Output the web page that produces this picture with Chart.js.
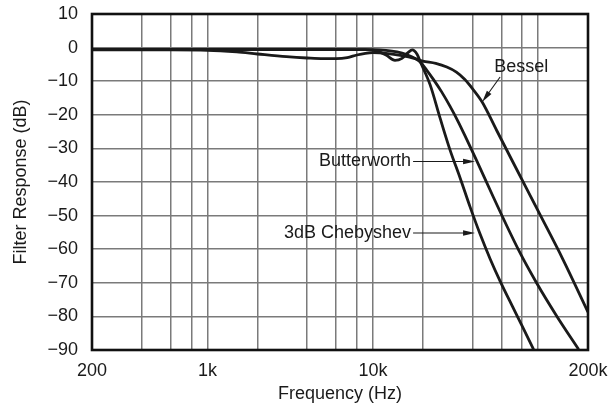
<!DOCTYPE html>
<html>
<head>
<meta charset="utf-8">
<script src="https://cdn.jsdelivr.net/npm/chart.js@4.4.1/dist/chart.umd.min.js"></script>
<style>
  html, body { margin: 0; padding: 0; background: #fff; }
</style>
</head>
<body>
<canvas id="chart" width="613" height="408"></canvas>
<script>
// log grid lines (Hz) and the few that carry a label
var gridHz = [200, 400, 600, 800, 1000, 2000, 4000, 6000, 8000, 10000, 20000, 40000, 60000, 80000, 100000, 200000];
var labelHz = [200, 1000, 10000, 200000];
var labelText = ['200', '1k', '10k', '200k'];

// filter responses
var besselHz = [200, 600, 1000, 1500, 2000, 3000, 4000, 5000, 6000, 7000, 8000, 9000, 10000, 12000, 15000, 18000, 20000, 24000, 28000, 32000, 36000, 40000, 45800, 56000, 70000, 100000, 141000, 200000];
var besselDb = [-0.7, -0.7, -0.8, -1.3, -1.9, -2.7, -3.1, -3.3, -3.3, -3.0, -2.2, -1.7, -1.5, -1.7, -2.4, -3.3, -4.0, -4.7, -5.8, -7.3, -9.5, -12.2, -16.2, -24.6, -33.9, -48.7, -63.0, -78.7];

var butterHz = [200, 1000, 5000, 10000, 12000, 14000, 16000, 18000, 19700, 21000, 23100, 26000, 29300, 33000, 37000, 42500, 53400, 76000, 98200, 129800, 175500];
var butterDb = [-0.6, -0.6, -0.6, -0.6, -0.8, -1.3, -2.1, -3.2, -4.7, -6.5, -9.3, -13.1, -17.5, -22.3, -27.4, -33.7, -44.4, -60.2, -70.2, -80.0, -89.8];

var chebyHz = [200, 1000, 5000, 9000, 10500, 12000, 13600, 15000, 16300, 17300, 18500, 19500, 22200, 25500, 29300, 33700, 38700, 44500, 51200, 58800, 69600, 80000, 93700];
var chebyDb = [-0.5, -0.5, -0.5, -0.6, -1.0, -2.2, -3.8, -3.2, -1.5, -0.7, -2.0, -4.6, -11.1, -21.0, -30.5, -38.8, -47.4, -55.5, -62.9, -69.5, -76.9, -82.9, -89.8];

var font = { family: "'Liberation Sans', Arial, sans-serif", size: 18 };
var ink = '#1a1a1a';

function pts(xs, ys) {
  return xs.map(function(x, i) { return { x: x, y: ys[i] }; });
}

// labels with arrows, given in data units
var notes = [
  { text: 'Bessel', hz: 79000, db: -5.8, align: 'center', from: [58800, -8.75], to: [45800, -16.2] },
  { text: 'Butterworth', hz: 17500, db: -33.9, align: 'right', from: [17500, -33.9], to: [41500, -33.9] },
  { text: '3dB Chebyshev', hz: 17500, db: -55.2, align: 'right', from: [17500, -55.2], to: [41500, -55.2] }
];

var frame = {
  id: 'frame',
  afterDatasetsDraw: function(chart) {
    var a = chart.chartArea, ctx = chart.ctx;
    ctx.save();
    ctx.strokeStyle = '#111';
    ctx.lineWidth = 2.6;
    ctx.strokeRect(a.left, a.top, a.right - a.left, a.bottom - a.top);
    ctx.restore();
  }
};

var arrows = {
  id: 'arrows',
  afterDraw: function(chart) {
    var ctx = chart.ctx, xs = chart.scales.x, ys = chart.scales.y;
    ctx.save();
    ctx.font = font.size + 'px ' + font.family;
    ctx.fillStyle = ink;
    ctx.strokeStyle = ink;
    notes.forEach(function(n) {
      var tx = xs.getPixelForValue(n.hz), ty = ys.getPixelForValue(n.db);
      ctx.textAlign = n.align;
      ctx.textBaseline = 'middle';
      ctx.fillText(n.text, n.align === 'right' ? tx - 2 : tx, ty);

      var x1 = xs.getPixelForValue(n.from[0]), y1 = ys.getPixelForValue(n.from[1]);
      var x2 = xs.getPixelForValue(n.to[0]), y2 = ys.getPixelForValue(n.to[1]);
      var ang = Math.atan2(y2 - y1, x2 - x1);
      ctx.lineWidth = 1.1;
      ctx.beginPath();
      ctx.moveTo(x1, y1);
      ctx.lineTo(x2 - 8 * Math.cos(ang), y2 - 8 * Math.sin(ang));
      ctx.stroke();
      ctx.beginPath();
      ctx.moveTo(x2, y2);
      ctx.lineTo(x2 - 12 * Math.cos(ang) + 2.8 * Math.sin(ang), y2 - 12 * Math.sin(ang) - 2.8 * Math.cos(ang));
      ctx.lineTo(x2 - 12 * Math.cos(ang) - 2.8 * Math.sin(ang), y2 - 12 * Math.sin(ang) + 2.8 * Math.cos(ang));
      ctx.closePath();
      ctx.fill();
    });
    ctx.restore();
  }
};

new Chart(document.getElementById('chart').getContext('2d'), {
  type: 'line',
  data: {
    datasets: [
      { label: 'Bessel', data: pts(besselHz, besselDb) },
      { label: 'Butterworth', data: pts(butterHz, butterDb) },
      { label: '3dB Chebyshev', data: pts(chebyHz, chebyDb) }
    ]
  },
  options: {
    responsive: false,
    animation: false,
    layout: { padding: { left: 0, right: 25, top: 14, bottom: 0 } },
    plugins: { legend: { display: false }, tooltip: { enabled: false } },
    elements: {
      point: { radius: 0 },
      line: { borderWidth: 2.8, borderColor: ink, fill: false, cubicInterpolationMode: 'monotone' }
    },
    scales: {
      x: {
        type: 'logarithmic',
        min: 200,
        max: 200000,
        afterBuildTicks: function(s) { s.ticks = gridHz.map(function(v) { return { value: v }; }); },
        // fixed height, and no extra room for the end labels
        afterFit: function(s) { s.height = 58; s.paddingLeft = 0; s.paddingRight = 0; },
        ticks: {
          autoSkip: false, maxRotation: 0, padding: 10, color: ink, font: font,
          callback: function(v) { var i = labelHz.indexOf(v); return i < 0 ? '' : labelText[i]; }
        },
        grid: { color: '#7a7a7a', lineWidth: 1.5, drawTicks: false },
        border: { display: false },
        title: { display: true, text: 'Frequency (Hz)', color: ink, font: font, padding: { top: 0, bottom: 3 } }
      },
      y: {
        min: -90,
        max: 10,
        afterFit: function(s) { s.width = 92; s.paddingTop = 0; s.paddingBottom = 0; },
        ticks: {
          stepSize: 10, padding: 14, color: ink, font: font,
          callback: function(v) { return v < 0 ? '\u2212' + Math.abs(v) : String(v); }
        },
        grid: { color: '#7a7a7a', lineWidth: 1.5, drawTicks: false },
        border: { display: false },
        title: { display: true, text: 'Filter Response (dB)', color: ink, font: font, padding: { top: 10, bottom: 0 } }
      }
    }
  },
  plugins: [frame, arrows]
});
</script>
</body>
</html>
